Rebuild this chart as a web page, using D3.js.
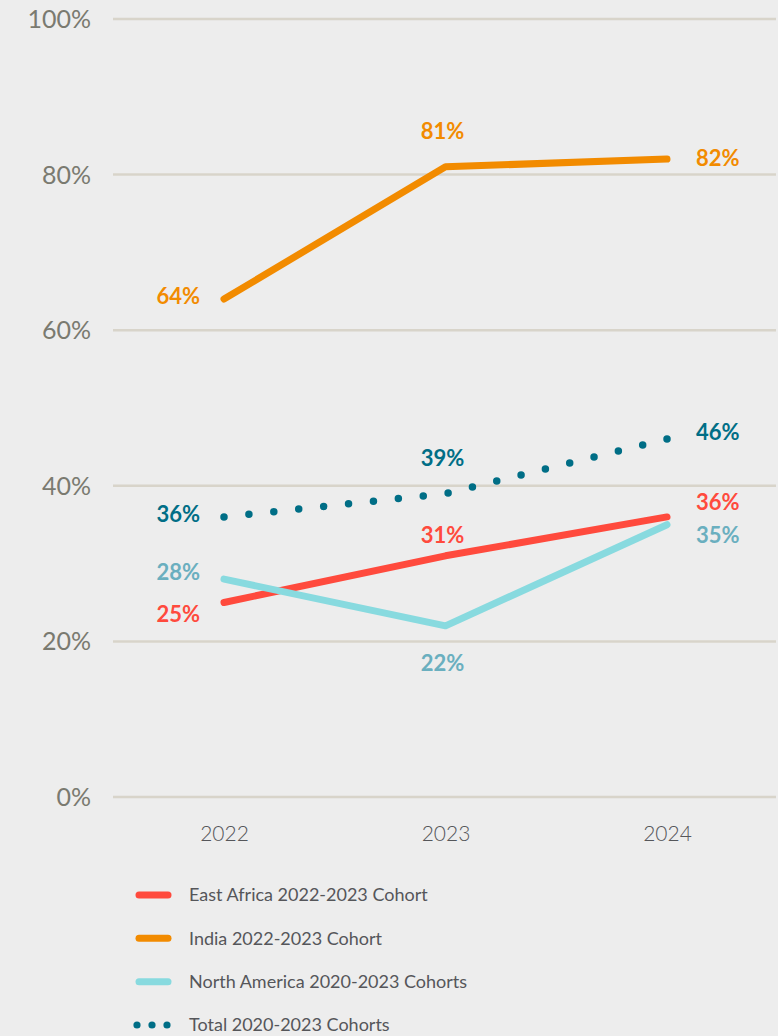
<!DOCTYPE html>
<html>
<head>
<meta charset="utf-8">
<script src="https://cdn.jsdelivr.net/npm/d3@7"></script>
<style>
  html, body { margin: 0; padding: 0; background: #ededed; }
  svg { display: block; }
</style>
</head>
<body>
<svg id="chart" width="778" height="1036"></svg>
<script>
// Cohort completion rates by year
const years = ["2022", "2023", "2024"];
const eastAfrica = [25, 31, 36];
const india = [64, 81, 82];
const northAmerica = [28, 22, 35];
const total = [36, 39, 46];
const yTicks = [0, 20, 40, 60, 80, 100];

const seriesNames = [
  "East Africa 2022-2023 Cohort",
  "India 2022-2023 Cohort",
  "North America 2020-2023 Cohorts",
  "Total 2020-2023 Cohorts"
];

// Label placement per point: [dx, dy, anchor]
const series = [
  { name: seriesNames[0], values: eastAfrica, line: "#ff4a3d", label: "#ff4a3d", dotted: false,
    place: [[-24, 12, "end"], [-3, -21, "middle"], [29, -15, "start"]] },
  { name: seriesNames[1], values: india, line: "#f28b00", label: "#f28b00", dotted: false,
    place: [[-24, -3, "end"], [-3, -36, "middle"], [29, -1, "start"]] },
  { name: seriesNames[2], values: northAmerica, line: "#88dadf", label: "#6aafbf", dotted: false,
    place: [[-24, -7, "end"], [-3, 37, "middle"], [29, 10, "start"]] },
  { name: seriesNames[3], values: total, line: "#006e86", label: "#006e86", dotted: true,
    place: [[-24, -3, "end"], [-3, -36, "middle"], [29, -7, "start"]] }
];

const svg = d3.select("#chart");

const x = d3.scalePoint().domain(years).range([224, 667]);
const y = d3.scaleLinear().domain([0, 100]).range([797, 19]);

// Gridlines
svg.append("g")
  .selectAll("line")
  .data(yTicks)
  .join("line")
  .attr("x1", 113).attr("x2", 776)
  .attr("y1", d => y(d)).attr("y2", d => y(d))
  .attr("stroke", "#d8d4ca")
  .attr("stroke-width", 2.5);

// Y axis labels
svg.append("g")
  .selectAll("text")
  .data(yTicks)
  .join("text")
  .attr("x", 91)
  .attr("y", d => y(d))
  .attr("dy", "0.36em")
  .attr("text-anchor", "end")
  .attr("fill", "#7a7a70")
  .attr("font-family", "Lato, sans-serif")
  .attr("font-size", 25)
  .text(d => d + "%");

// X axis labels
const xAxis = d3.axisBottom(x).tickSize(0).tickPadding(0);
const gx = svg.append("g").attr("transform", "translate(0,833)").call(xAxis);
gx.select(".domain").remove();
gx.selectAll("text")
  .attr("dy", "0.36em")
  .attr("fill", "#55565a")
  .attr("font-family", "Lato, sans-serif")
  .attr("font-weight", 300)
  .attr("font-size", 21);

const line = d3.line()
  .x((d, i) => x(years[i]))
  .y(d => y(d));

// Lines; the total is drawn as a row of round dots
series.forEach(s => {
  const p = svg.append("path")
    .datum(s.values)
    .attr("d", line)
    .attr("fill", "none")
    .attr("stroke", s.line)
    .attr("stroke-linecap", "round")
    .attr("stroke-linejoin", "round");
  if (s.dotted) {
    const gap = p.node().getTotalLength() / 18;
    p.attr("stroke-width", 7.5).attr("stroke-dasharray", `0 ${gap}`);
  } else {
    p.attr("stroke-width", 7);
  }
});

// Value labels
series.forEach(s => {
  svg.append("g")
    .selectAll("text")
    .data(s.values)
    .join("text")
    .attr("x", (d, i) => x(years[i]) + s.place[i][0])
    .attr("y", (d, i) => y(d) + s.place[i][1])
    .attr("dy", "0.36em")
    .attr("text-anchor", (d, i) => s.place[i][2])
    .attr("fill", s.label)
    .attr("font-family", "Lato, sans-serif")
    .attr("font-weight", 700)
    .attr("font-size", 22)
    .text(d => d + "%");
});

// Legend
const legend = svg.append("g");
const legendY = d3.scalePoint().domain(seriesNames).range([895, 1025]);
series.forEach(s => {
  const ly = legendY(s.name);
  if (s.dotted) {
    legend.append("g")
      .selectAll("circle")
      .data([137, 152, 167])
      .join("circle")
      .attr("cx", d => d).attr("cy", ly).attr("r", 3.6)
      .attr("fill", s.line);
  } else {
    legend.append("line")
      .attr("x1", 139).attr("x2", 168)
      .attr("y1", ly).attr("y2", ly)
      .attr("stroke", s.line)
      .attr("stroke-width", 7)
      .attr("stroke-linecap", "round");
  }
  legend.append("text")
    .attr("x", 189).attr("y", ly)
    .attr("dy", "0.36em")
    .attr("fill", "#55565a")
    .attr("font-family", "Lato, sans-serif")
    .attr("font-size", 18)
    .text(s.name);
});
</script>
</body>
</html>
